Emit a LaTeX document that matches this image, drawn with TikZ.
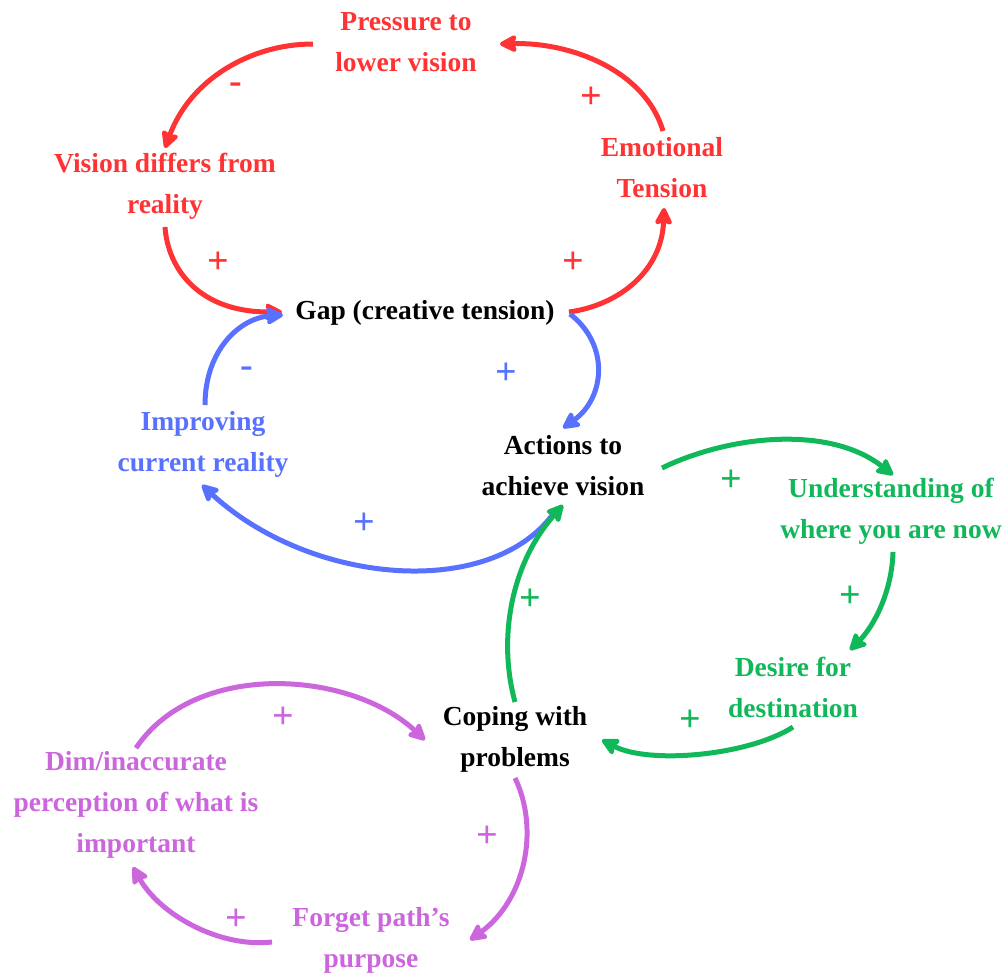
\documentclass[tikz,border=0pt]{standalone}
\usepackage{fontspec}
\setmainfont{Liberation Serif}
\usetikzlibrary{arrows.meta,calc}
\definecolor{cred}{HTML}{FF3333}
\definecolor{cblue}{HTML}{5872FF}
\definecolor{cgreen}{HTML}{10B85A}
\definecolor{cpurple}{HTML}{CC66DD}
\begin{document}
\begin{tikzpicture}[x=1pt,y=-1pt,
  lbl/.style={font=\fontsize{27.5}{41}\selectfont\bfseries, align=center, inner sep=0pt},
  sgn/.style={font=\fontsize{38}{38}\selectfont\bfseries, inner sep=0pt},
  conn/.style={line width=5pt, -{Stealth[length=20pt,width=20pt,inset=3pt,round]}},
]
\useasboundingbox (0,0) rectangle (1006,977);
\fill[white] (0,0) rectangle (1006,977);

% nodes
\node[lbl, text=cred] (press) at (406,42) {Pressure to\\lower vision};
\node[lbl, text=cred] (emo) at (662,168) {Emotional\\Tension};
\node[lbl, text=cred] (vis) at (165,186) {Vision differs from\\reality};
\node[lbl] (gap) at (425,313) {Gap (creative tension)};
\node[lbl, text=cblue] (imp) at (203,444) {Improving\\current reality};
\node[lbl] (act) at (563,466) {Actions to\\achieve vision};
\node[lbl, text=cgreen] (und) at (891,511) {Understanding of\\where you are now};
\node[lbl, text=cgreen] (des) at (793,687) {Desire for\\destination};
\node[lbl] (cop) at (515,739) {Coping with\\problems};
\node[lbl, text=cpurple] (dim) at (136,805) {Dim/inaccurate\\perception of what is\\important};
\node[lbl, text=cpurple] (forg) at (371,940) {Forget path’s\\purpose};

% red loop
\draw[conn, cred] ($(press.center)+(-93,2)$) .. controls (250,44) and (190,80) .. ($(vis.center)+(0,-38)$);
\draw[conn, cred] ($(emo.center)+(1,-37)$) .. controls (645,70) and (570,42) .. ($(press.center)+(94,2)$);
\draw[conn, cred] ($(vis.center)+(0,41)$) .. controls (168,270) and (200,312) .. ($(gap.center)+(-143,-1)$);
\draw[conn, cred] ($(gap.center)+(144,-1)$) .. controls (620,305) and (662,270) .. ($(emo.center)+(2,40)$);

% blue loop
\draw[conn, cblue] ($(gap.center)+(145,1)$) .. controls (610,345) and (605,398) .. ($(act.center)+(0,-38)$);
\draw[conn, cblue] ($(imp.center)+(2,-39)$) .. controls (205,350) and (240,318) .. ($(gap.center)+(-142,2)$);
\draw[conn, cblue] ($(act.center)+(-10,48)$) .. controls (490,600) and (310,585) .. ($(imp.center)+(-1,41)$);

% green loop
\draw[conn, cgreen] ($(act.center)+(99,2)$) .. controls (730,435) and (830,425) .. ($(und.center)+(2,-36)$);
\draw[conn, cgreen] ($(und.center)+(2,41)$) .. controls (892,590) and (875,625) .. ($(des.center)+(57,-37)$);
\draw[conn, cgreen] ($(des.center)+(0,40)$) .. controls (750,755) and (650,765) .. ($(cop.center)+(87,1)$);
\draw[conn, cgreen] ($(cop.center)+(0,-37)$) .. controls (498,640) and (510,565) .. ($(act.center)+(0,39)$);

% purple loop
\draw[conn, cpurple] ($(dim.center)+(0,-57)$) .. controls (195,660) and (350,670) .. ($(cop.center)+(-90,1)$);
\draw[conn, cpurple] ($(cop.center)+(0,39)$) .. controls (540,830) and (525,900) .. ($(forg.center)+(99,0)$);
\draw[conn, cpurple] ($(forg.center)+(-99,2)$) .. controls (220,948) and (160,915) .. ($(dim.center)+(-3,62)$);

% signs
\node[sgn, text=cred] (s1) at (236,88) {-};
\node[sgn, text=cred] (s2) at (591,98) {+};
\node[sgn, text=cred] (s3) at (218,263) {+};
\node[sgn, text=cred] (s4) at (573,263) {+};
\node[sgn, text=cblue] (s5) at (506,374) {+};
\node[sgn, text=cblue] (s6) at (247,372) {-};
\node[sgn, text=cblue] (s7) at (364,524) {+};
\node[sgn, text=cgreen] (s8) at (731,481) {+};
\node[sgn, text=cgreen] (s9) at (850,597) {+};
\node[sgn, text=cgreen] (s10) at (690,721) {+};
\node[sgn, text=cgreen] (s11) at (530,600) {+};
\node[sgn, text=cpurple] (s12) at (283,718) {+};
\node[sgn, text=cpurple] (s13) at (487,837) {+};
\node[sgn, text=cpurple] (s14) at (236,920) {+};
\end{tikzpicture}
\end{document}
